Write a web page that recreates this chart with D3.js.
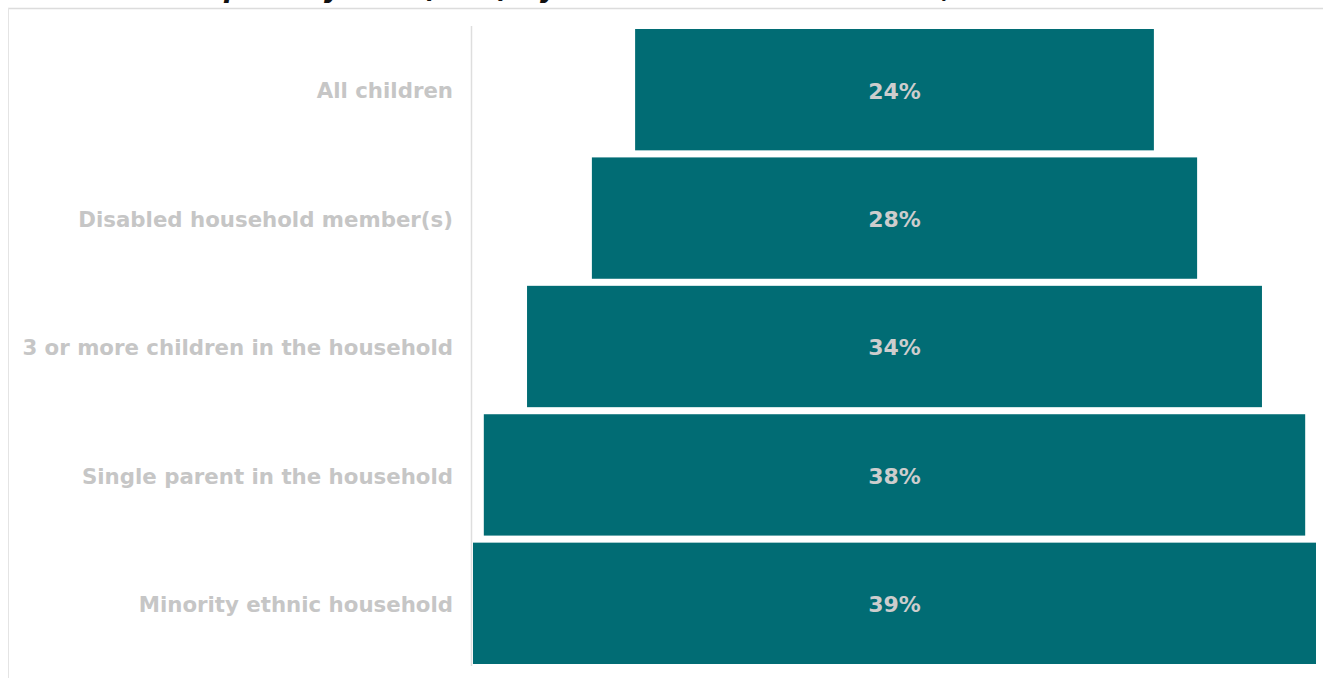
<!DOCTYPE html>
<html>
<head>
<meta charset="utf-8">
<script src="https://cdn.jsdelivr.net/npm/d3@7"></script>
<style>
  html, body { margin: 0; padding: 0; background: #fff; overflow: hidden; }
  svg { display: block; }
</style>
</head>
<body>
<svg id="chart" width="1323" height="678"></svg>
<script>
// Child poverty rate (after housing costs) by household characteristic
const categories = [
  "All children",
  "Disabled household member(s)",
  "3 or more children in the household",
  "Single parent in the household",
  "Minority ethnic household"
];
const values = [24, 28, 34, 38, 39];
const valueLabels = ["24%", "28%", "34%", "38%", "39%"];
const titlePrefix = "Child ";
const titleRest = "poverty rate (AHC) by household characteristic, Scotland";

const svg = d3.select("#chart");
const W = 1323, H = 678;

// Title: baseline sits just above the top edge, so only descenders show
const titleFont = { family: "DejaVu Sans", size: 27 };
const title = svg.append("text")
  .attr("y", -3)
  .attr("font-family", titleFont.family)
  .attr("font-weight", "bold")
  .attr("font-style", "italic")
  .attr("font-size", titleFont.size)
  .attr("fill", "#111");
const tPre = title.append("tspan").text(titlePrefix);
title.append("tspan").text(titleRest);
title.attr("x", 224 - tPre.node().getComputedTextLength());

// Panel frame (top and left edges)
svg.append("line")
  .attr("x1", 8).attr("x2", W).attr("y1", 8.5).attr("y2", 8.5)
  .attr("stroke", "#dcdcdc").attr("stroke-width", 1.5);
svg.append("line")
  .attr("x1", 8.5).attr("x2", 8.5).attr("y1", 8).attr("y2", H)
  .attr("stroke", "#e4e4e4").attr("stroke-width", 1);

// Scales: funnel bars centred on a common axis
const centerX = 894.5;
const maxWidth = 843;
const w = d3.scaleLinear().domain([0, d3.max(values)]).range([0, maxWidth]);
const y = d3.scaleBand().domain(categories).range([29, 664]).paddingInner(0.055).paddingOuter(0);

// Category axis line
const axisX = 471.5;
svg.append("line")
  .attr("x1", axisX).attr("x2", axisX).attr("y1", 26).attr("y2", 666)
  .attr("stroke", "#dedede").attr("stroke-width", 1.5);

const data = categories.map((c, i) => ({ c, v: values[i], lab: valueLabels[i] }));

svg.append("g").selectAll("rect")
  .data(data)
  .join("rect")
  .attr("x", d => centerX - w(d.v) / 2)
  .attr("y", d => y(d.c))
  .attr("width", d => w(d.v))
  .attr("height", y.bandwidth())
  .attr("fill", "#016c74");

// Value labels inside bars
svg.append("g").selectAll("text")
  .data(data)
  .join("text")
  .attr("x", centerX)
  .attr("y", d => y(d.c) + y.bandwidth() / 2 + 1)
  .attr("dy", "0.36em")
  .attr("text-anchor", "middle")
  .attr("font-family", "DejaVu Sans")
  .attr("font-weight", "bold")
  .attr("font-size", 22)
  .attr("fill", "#cdcdcd")
  .text(d => d.lab);

// Category labels
svg.append("g").selectAll("text")
  .data(data)
  .join("text")
  .attr("x", 453)
  .attr("y", d => y(d.c) + y.bandwidth() / 2 + 1)
  .attr("dy", "0.36em")
  .attr("text-anchor", "end")
  .attr("font-family", "DejaVu Sans")
  .attr("font-weight", "bold")
  .attr("font-size", 21.3)
  .attr("fill", "#c6c6c6")
  .text(d => d.c);
</script>
</body>
</html>
